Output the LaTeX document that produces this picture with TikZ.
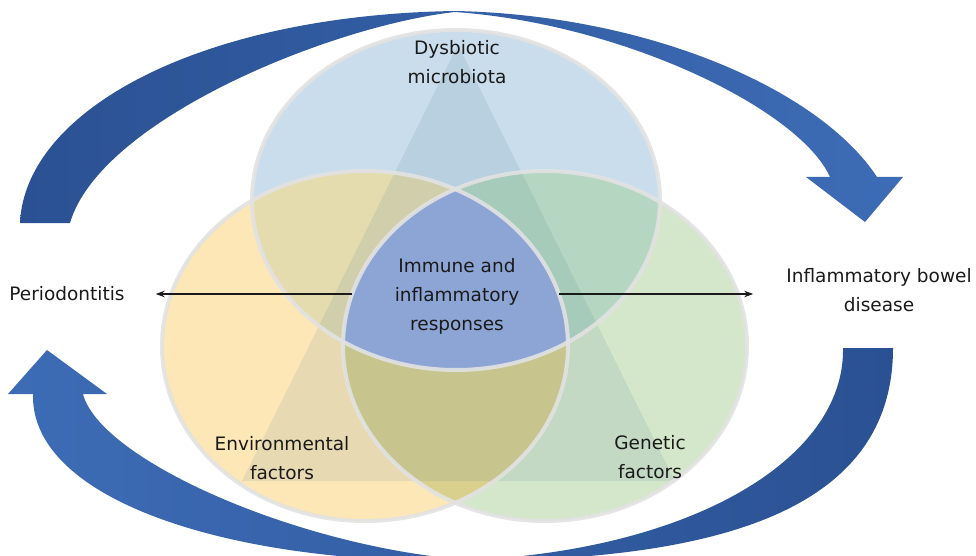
\documentclass[tikz,border=0pt]{standalone}
\usepackage{fontspec}
\setmainfont{DejaVu Sans}
\usetikzlibrary{arrows.meta}

\definecolor{topfill}{HTML}{C9DDEC}
\definecolor{leftfill}{HTML}{FDE7B6}
\definecolor{rightfill}{HTML}{D4E7CA}
\definecolor{tlfill}{HTML}{E4DCAF}
\definecolor{trfill}{HTML}{B5D7C1}
\definecolor{lrfill}{HTML}{D9D08E}
\definecolor{corefill}{HTML}{8DA5D5}
\definecolor{rim}{HTML}{E2E2E2}
\definecolor{tritint}{HTML}{3C6E8C}
\definecolor{arrowdark}{HTML}{2A5193}
\definecolor{arrowlight}{HTML}{3D6CB6}
\definecolor{ink}{HTML}{1A1A1A}

% the three overlapping sets
\def\topE{(456,200) ellipse [x radius=204, y radius=170]}
\def\leftE{(365,346) ellipse [x radius=203, y radius=175]}
\def\rightE{(545,346) ellipse [x radius=202, y radius=175]}

\tikzset{
  txt/.style={text=ink, font=\fontsize{18.5}{29}\selectfont, align=center},
  conn/.style={draw=ink, line width=1.1pt, -{Stealth[length=9pt,width=6.5pt]}},
  rimline/.style={draw=rim, line width=4pt, draw opacity=0.9},
}

\begin{document}
\begin{tikzpicture}[x=1pt,y=-1pt]
\useasboundingbox (0,0) rectangle (976,556);
\clip (0,0) rectangle (976,556);

% upper cycle arrow: Periodontitis -> IBD
\shade[left color=arrowdark, right color=arrowlight]
  (20,223) .. controls (25,110) and (200,15) .. (455,11)
  .. controls (650,15) and (820,90) .. (877,177)
  -- (903,177) -- (865,222) -- (806,177) -- (830,177)
  .. controls (800,110) and (625,24) .. (455,12)
  .. controls (330,26) and (100,120) .. (70,223) -- cycle;

% lower cycle arrow: IBD -> Periodontitis
\shade[left color=arrowlight, right color=arrowdark]
  (893,348) .. controls (893,510) and (720,560) .. (470,561)
  .. controls (230,565) and (30,500) .. (33,394)
  -- (8,394) -- (47,350) -- (107,394) -- (83,394)
  .. controls (100,460) and (300,548) .. (470,560)
  .. controls (690,550) and (845,460) .. (843,348) -- cycle;

% single sets
\fill[topfill] \topE;
\fill[leftfill] \leftE;
\fill[rightfill] \rightE;

% pairwise overlaps
\begin{scope}
  \clip \topE;
  \fill[tlfill] \leftE;
  \fill[trfill] \rightE;
\end{scope}
\begin{scope}
  \clip \leftE;
  \fill[lrfill] \rightE;
\end{scope}

% shaded triangle behind the sets
\fill[tritint, fill opacity=0.11] (458,45) -- (242,481) -- (675,481) -- cycle;

% common core
\begin{scope}
  \clip \topE;
  \clip \leftE;
  \fill[corefill] \rightE;
\end{scope}

% rims
\draw[rimline] \topE;
\draw[rimline] \leftE;
\draw[rimline] \rightE;

% labels
\node[txt] (dys) at (457,62) {Dysbiotic\\microbiota};
\node[txt] (imm) at (457,296) {Immune and\\inflammatory\\responses};
\node[txt] (env) at (282,458) {Environmental\\factors};
\node[txt] (gen) at (650,457) {Genetic\\factors};
\node[txt, inner xsep=31pt] (perio) at (67,294) {Periodontitis};
\node[txt, inner xsep=33pt] (ibd) at (879,290) {Inflammatory bowel\\disease};

% outcomes of the core
\coordinate (cl) at (352,294);
\coordinate (cr) at (559,294);
\draw[conn] (cl) -- (perio.east);
\draw[conn] (cr) -- (cr -| ibd.west);
\end{tikzpicture}
\end{document}
